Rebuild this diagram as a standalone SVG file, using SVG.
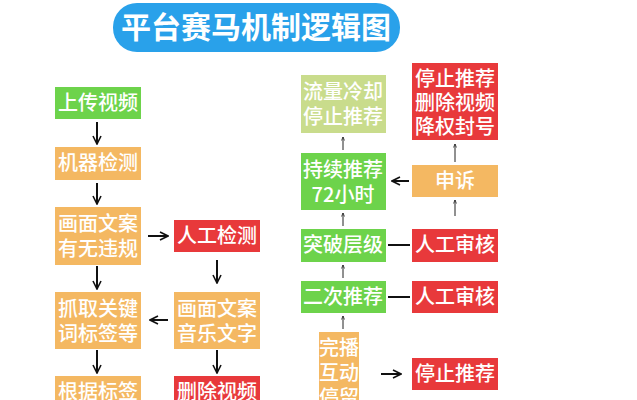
<svg xmlns="http://www.w3.org/2000/svg" width="637" height="400" viewBox="0 0 637 400">
<style>
text{font-family:"Noto Sans CJK SC","Liberation Sans",sans-serif;font-size:20px;fill:#fff;text-anchor:middle;font-weight:500}
.g{fill:#6dd34b}.o{fill:#f4b862}.r{fill:#e8393b}.l{fill:#c9dc8c}
.a{stroke:#111;stroke-width:2;fill:none}
.t{stroke:#222;stroke-width:1;fill:none}
</style>
<defs>
<marker id="m" viewBox="0 0 10 10" refX="9" refY="5" markerWidth="5" markerHeight="5" orient="auto"><path d="M1 1L9 5L1 9" fill="none" stroke="#111" stroke-width="1.6"/></marker>
<marker id="s" viewBox="0 0 10 10" refX="9" refY="5" markerWidth="5" markerHeight="5" orient="auto"><path d="M2 2L9 5L2 8" fill="none" stroke="#222" stroke-width="1.5"/></marker>
</defs>
<rect width="637" height="400" fill="#fff"/>
<g id="title"><rect x="113" y="3" width="287" height="49" rx="24" fill="#29a1ea"/><text x="256" y="38" style="font-size:30px;font-weight:700">平台赛马机制逻辑图</text></g>
<g id="n1"><rect class="g" x="55" y="87" width="86" height="32"/><text x="98" y="110">上传视频</text></g>
<g id="n2"><rect class="o" x="55" y="147" width="86" height="33"/><text x="98" y="170">机器检测</text></g>
<g id="n3"><rect class="o" x="55" y="207" width="86" height="58"/><text x="98" y="231">画面文案</text><text x="98" y="256">有无违规</text></g>
<g id="n4"><rect class="o" x="55" y="292" width="86" height="57"/><text x="98" y="316">抓取关键</text><text x="98" y="341">词标签等</text></g>
<g id="n5"><rect class="o" x="55" y="376" width="86" height="40"/><text x="98" y="399">根据标签</text></g>
<g id="n6"><rect class="r" x="174" y="220" width="86" height="32"/><text x="217" y="243">人工检测</text></g>
<g id="n7"><rect class="o" x="174" y="292" width="86" height="57"/><text x="217" y="316">画面文案</text><text x="217" y="341">音乐文字</text></g>
<g id="n8"><rect class="r" x="174" y="376" width="86" height="40"/><text x="217" y="399">删除视频</text></g>
<g id="n9"><rect class="l" x="301" y="75" width="85" height="58"/><text x="343" y="99">流量冷却</text><text x="343" y="124">停止推荐</text></g>
<g id="n10"><rect class="g" x="301" y="153" width="85" height="57"/><text x="343" y="177">持续推荐</text><text x="343" y="202">72小时</text></g>
<g id="n11"><rect class="g" x="301" y="229" width="85" height="33"/><text x="343" y="252">突破层级</text></g>
<g id="n12"><rect class="g" x="301" y="281" width="85" height="32"/><text x="343" y="304">二次推荐</text></g>
<g id="n13"><rect class="o" x="319" y="332" width="40" height="80"/><text x="339" y="355">完播</text><text x="339" y="380">互动</text><text x="339" y="405">停留</text></g>
<g id="n14"><rect class="r" x="412" y="63" width="86" height="77"/><text x="455" y="86">停止推荐</text><text x="455" y="110">删除视频</text><text x="455" y="134">降权封号</text></g>
<g id="n15"><rect class="o" x="412" y="165" width="86" height="32"/><text x="455" y="188">申诉</text></g>
<g id="n16"><rect class="r" x="412" y="229" width="86" height="33"/><text x="455" y="252">人工审核</text></g>
<g id="n17"><rect class="r" x="412" y="281" width="86" height="32"/><text x="455" y="304">人工审核</text></g>
<g id="n18"><rect class="r" x="412" y="358" width="86" height="32"/><text x="455" y="381">停止推荐</text></g>
<g id="connectors">
<path class="a" marker-end="url(#m)" d="M97 122V144"/>
<path class="a" marker-end="url(#m)" d="M97 183V204"/>
<path class="a" marker-end="url(#m)" d="M97 266V289"/>
<path class="a" marker-end="url(#m)" d="M97 350V373"/>
<path class="a" marker-end="url(#m)" d="M148 236H168"/>
<path class="a" marker-end="url(#m)" d="M217 260V283"/>
<path class="a" marker-end="url(#m)" d="M168 320H150"/>
<path class="a" marker-end="url(#m)" d="M217 350V373"/>
<path class="t" marker-end="url(#s)" d="M343 150V137"/>
<path class="t" marker-end="url(#s)" d="M343 226V213"/>
<path class="t" marker-end="url(#s)" d="M343 278V265"/>
<path class="t" marker-end="url(#s)" d="M343 329V316"/>
<path class="t" marker-end="url(#s)" d="M455 162V144"/>
<path class="t" marker-end="url(#s)" d="M455 216V200"/>
<path class="a" marker-end="url(#m)" d="M409 181H392"/>
<path class="a" d="M388 245H410M388 297H410"/>
<path class="a" marker-end="url(#m)" d="M381 374H401"/>
</g>
</svg>
